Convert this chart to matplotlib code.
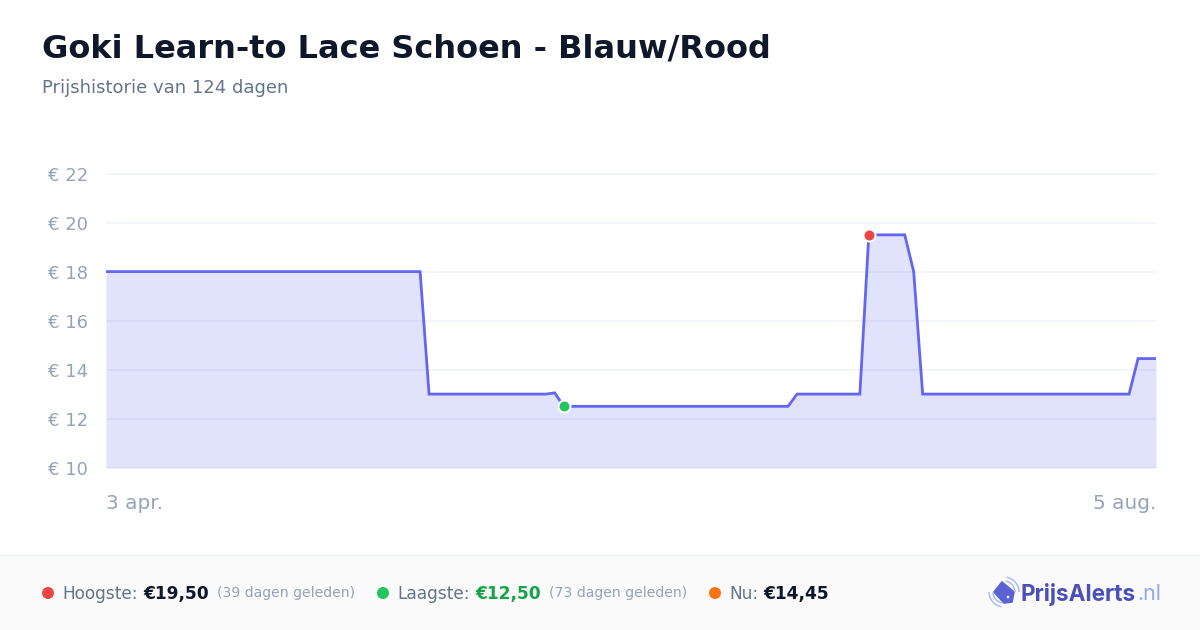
import matplotlib
matplotlib.use("Agg")
import matplotlib.pyplot as plt
from matplotlib.patches import Rectangle, Polygon, Circle, Arc

plt.rcParams['font.family'] = ['DejaVu Sans']

TITLE = "Goki Learn-to Lace Schoen - Blauw/Rood"
SUBTITLE = "Prijshistorie van 124 dagen"
prices = [18.0, 18.0, 18.0, 18.0, 18.0, 18.0, 18.0, 18.0, 18.0, 18.0, 18.0, 18.0,
          18.0, 18.0, 18.0, 18.0, 18.0, 18.0, 18.0, 18.0, 18.0, 18.0, 18.0, 18.0,
          18.0, 18.0, 18.0, 18.0, 18.0, 18.0, 18.0, 18.0, 18.0, 18.0, 18.0, 18.0,
          13.0, 13.0, 13.0, 13.0, 13.0, 13.0, 13.0, 13.0, 13.0, 13.0, 13.0, 13.0,
          13.0, 13.0, 13.05,
          12.5, 12.5, 12.5, 12.5, 12.5, 12.5, 12.5, 12.5, 12.5, 12.5, 12.5, 12.5,
          12.5, 12.5, 12.5, 12.5, 12.5, 12.5, 12.5, 12.5, 12.5, 12.5, 12.5, 12.5,
          12.5, 12.5,
          13.0, 13.0, 13.0, 13.0, 13.0, 13.0, 13.0, 13.0,
          19.5, 19.5, 19.5, 19.5, 19.5, 18.0,
          13.0, 13.0, 13.0, 13.0, 13.0, 13.0, 13.0, 13.0, 13.0, 13.0, 13.0, 13.0,
          13.0, 13.0, 13.0, 13.0, 13.0, 13.0, 13.0, 13.0, 13.0, 13.0, 13.0, 13.0,
          14.45, 14.45, 14.45]
y_ticks = [10, 12, 14, 16, 18, 20, 22]
x_labels = ["3 apr.", "5 aug."]
low_index = 51
high_index = 85
legend = [("Hoogste:", "€19,50", "(39 dagen geleden)", "#ef4444", "#0f172a"),
          ("Laagste:", "€12,50", "(73 dagen geleden)", "#22c55e", "#16a34a"),
          ("Nu:", "€14,45", "", "#f97316", "#0f172a")]

W, H = 1200, 630
fig = plt.figure(figsize=(W / 100, H / 100), dpi=100, facecolor="white")
px = 0.72  # points per pixel at dpi 100

# overlay in pixel coordinates
ov = fig.add_axes([0, 0, 1, 1], zorder=0)
ov.set_xlim(0, W); ov.set_ylim(H, 0); ov.axis("off")
ov.add_patch(Rectangle((0, 554), W, 76, fc="#fafafa", ec="none"))
ov.plot([0, W], [554.5, 554.5], color="#f1f5f9", lw=1)
ov.text(42, 45.4, TITLE, fontsize=32 * px, fontweight="bold", color="#0f172a", va="center_baseline")
ov.text(42, 86, SUBTITLE, fontsize=18 * px, color="#64748b", va="center_baseline")

# chart axes: x 106..1156, y 174..468 px
ax = fig.add_axes([106 / W, 1 - 467.6 / H, 1050 / W, 294 / H], zorder=1)
ax.patch.set_alpha(0)
xs = list(range(len(prices)))
ax.set_xlim(0, 117); ax.set_ylim(10, 22)
for s in ax.spines.values():
    s.set_visible(False)
ax.set_yticks(y_ticks)
ax.set_yticklabels([f"€ {v}" for v in y_ticks], fontsize=18 * px, color="#94a3b8")
for lab in ax.get_yticklabels():
    lab.set_verticalalignment("center_baseline")
ax.tick_params(axis="y", length=0, pad=13)
ax.set_xticks([])
ax.grid(axis="y", color="#f1f5f9", lw=1.3, clip_on=False, solid_capstyle="butt")
ax.set_axisbelow(True)
ax.fill_between(xs, prices, 10, color="#6366f1", alpha=0.19, lw=0, clip_on=True)
ax.plot(xs, prices, color="#6366f1", lw=2.0, solid_joinstyle="miter", clip_on=True)
ax.plot([high_index], [prices[high_index]], "o", ms=10 * px + 1.4, mfc="#ef4444", mec="white", mew=1.4, clip_on=False)
ax.plot([low_index], [prices[low_index]], "o", ms=10 * px + 1.4, mfc="#22c55e", mec="white", mew=1.4, clip_on=False)

ov.text(106, 501.5, x_labels[0], fontsize=20 * px, color="#94a3b8", va="center_baseline", ha="left")
ov.text(1156, 501.5, x_labels[1], fontsize=20 * px, color="#94a3b8", va="center_baseline", ha="right")

# footer legend
positions = [(48, 62, 143, 217), (383, 397, 475, 549), (715, 729, 763, 0)]
for (lab, val, ago, col, vcol), (dx, tx, vx, ago_x) in zip(legend, positions):
    ov.add_patch(Circle((dx, 593), 6, fc=col, ec="none"))
    ov.text(tx, 592, lab, fontsize=17 * px, color="#64748b", va="center_baseline")
    ov.text(vx, 592, val, fontsize=17 * px, fontweight="bold", color=vcol, va="center_baseline")
    if ago:
        ov.text(ago_x, 592, ago, fontsize=14 * px, color="#94a3b8", va="center_baseline")

# logo
ov.add_patch(Polygon([(1002, 582), (1014, 592), (1012, 602), (1004, 603), (994, 592)],
                     closed=True, fc="#5b63d3", ec="#5b63d3", lw=1.2, joinstyle="round"))
ov.add_patch(Circle((1008, 597), 1.3, fc="white", ec="none"))
for d, t1, t2 in [(22, 280, 360), (30, 280, 360), (22, 100, 180), (30, 100, 180)]:
    ov.add_patch(Arc((1004, 592), d, d, theta1=t1, theta2=t2, color="#a9bdf5", lw=1.1))
ov.text(1021, 592, "PrijsAlerts", fontsize=22.6 * px, fontweight="bold", family="Inter",
        color="#4a50b8", va="center_baseline")
ov.text(1137, 592, ".nl", fontsize=21.5 * px, family="Inter", color="#8fa8f0", va="center_baseline")

fig.savefig("out.png", dpi=100)
